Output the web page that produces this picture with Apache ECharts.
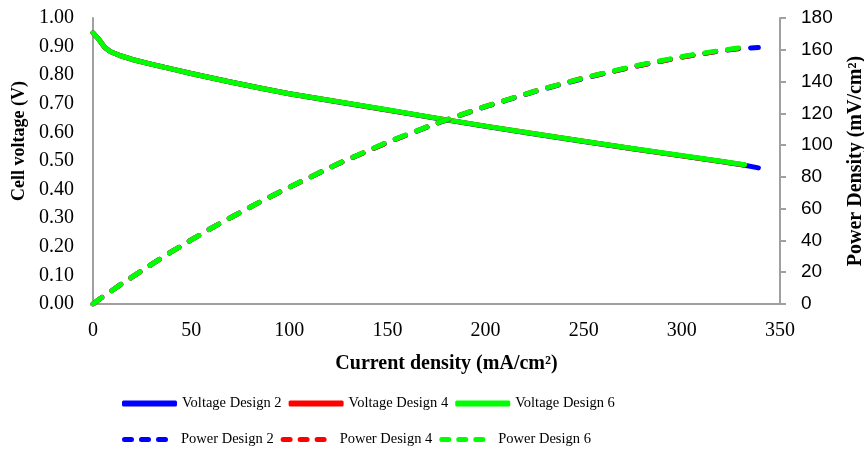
<!DOCTYPE html>
<html>
<head>
<meta charset="utf-8">
<title>Cell voltage and power density</title>
<script src="https://cdn.jsdelivr.net/npm/echarts@6/dist/echarts.min.js"></script>
<style>
  html, body { margin: 0; padding: 0; background: #ffffff; }
  #chart { width: 864px; height: 452px; }
</style>
</head>
<body>
<div id="chart"></div>
<script>
// Current density (mA/cm²) sample points
const currentDesign2 = [0, 3, 6, 9, 14, 20, 30, 40, 50, 60, 70, 85, 100, 125, 150, 175, 200, 225, 250, 275, 300, 320, 332, 339];
const currentDesign4 = [0, 3, 6, 9, 14, 20, 30, 40, 50, 60, 70, 85, 100, 125, 150, 175, 200, 225, 250, 275, 300, 320, 332];
const currentDesign6 = [0, 3, 6, 9, 14, 20, 30, 40, 50, 60, 70, 85, 100, 125, 150, 175, 200, 225, 250, 275, 300, 320, 332];

// Cell voltage (V)
const voltageDesign2 = [0.948, 0.925, 0.897, 0.882, 0.868, 0.855, 0.838, 0.822, 0.806, 0.791, 0.776, 0.755, 0.735, 0.706, 0.678, 0.649, 0.621, 0.594, 0.568, 0.543, 0.518, 0.498, 0.485, 0.476];
const voltageDesign4 = [0.948, 0.925, 0.897, 0.882, 0.868, 0.855, 0.838, 0.822, 0.806, 0.791, 0.776, 0.755, 0.735, 0.707, 0.678, 0.650, 0.622, 0.595, 0.569, 0.543, 0.518, 0.498, 0.486];
const voltageDesign6 = [0.948, 0.925, 0.897, 0.882, 0.868, 0.855, 0.838, 0.822, 0.806, 0.791, 0.776, 0.755, 0.735, 0.707, 0.679, 0.650, 0.622, 0.595, 0.569, 0.544, 0.519, 0.499, 0.487];

// Power density (mW/cm²)
const powerDesign2 = [0, 2.8, 5.4, 7.9, 12.2, 17.1, 25.1, 32.9, 40.3, 47.5, 54.3, 64.2, 73.5, 88.3, 101.7, 113.6, 124.2, 133.7, 142.0, 149.3, 155.4, 159.4, 161.0, 161.4];
const powerDesign4 = [0, 2.8, 5.4, 7.9, 12.2, 17.1, 25.1, 32.9, 40.3, 47.5, 54.3, 64.2, 73.5, 88.4, 101.7, 113.8, 124.4, 133.9, 142.3, 149.3, 155.4, 159.4, 161.4];
const powerDesign6 = [0, 2.8, 5.4, 7.9, 12.2, 17.1, 25.1, 32.9, 40.3, 47.5, 54.3, 64.2, 73.5, 88.4, 101.9, 113.8, 124.4, 133.9, 142.3, 149.6, 155.7, 159.7, 161.7];

const voltageTicks = { min: 0, max: 1, interval: 0.1 };
const powerTicks = { min: 0, max: 180, interval: 20 };
const currentTicks = { min: 0, max: 350, interval: 50 };

const pair = (xs, ys) => xs.map((x, i) => [x, ys[i]]);

const BLUE = '#0000ff', RED = '#ff0000', GREEN = '#00ff00';
const AXIS_GREY = '#a0a0a0';
const SERIF = '"Liberation Serif", "Times New Roman", serif';
const SANS = '"Liberation Sans", Arial, sans-serif';

// three rounded dashes used as the legend mark of the power series
const DASH_ICON = 'path://M2.5,0 H9.5 A2.5,2.5 0 0 1 9.5,5 H2.5 A2.5,2.5 0 0 1 2.5,0 Z ' +
  'M19.5,0 H26.5 A2.5,2.5 0 0 1 26.5,5 H19.5 A2.5,2.5 0 0 1 19.5,0 Z ' +
  'M36.5,0 H43.5 A2.5,2.5 0 0 1 43.5,5 H36.5 A2.5,2.5 0 0 1 36.5,0 Z';

function voltageSeries(name, color, xs, ys) {
  return {
    name, type: 'line', yAxisIndex: 0, symbol: 'none',
    data: pair(xs, ys),
    lineStyle: { color, width: 5, cap: 'round', join: 'round' },
    itemStyle: { color }
  };
}
function powerSeries(name, color, xs, ys) {
  return {
    name, type: 'line', yAxisIndex: 1, symbol: 'none',
    data: pair(xs, ys),
    lineStyle: { color, width: 5, type: [11, 12], cap: 'round', join: 'round' },
    itemStyle: { color }
  };
}

const chart = echarts.init(document.getElementById('chart'), null, { renderer: 'canvas' });

chart.setOption({
  animation: false,
  backgroundColor: '#ffffff',
  grid: { left: 93, right: 84, top: 18, bottom: 148, containLabel: false, outerBoundsMode: 'none' },
  legend: [
    {
      left: 117, top: 391, orient: 'horizontal',
      selectedMode: false,
      icon: 'roundRect', itemWidth: 55, itemHeight: 6, itemGap: 7,
      textStyle: { fontFamily: SERIF, fontSize: 14.5, color: '#000', width: 98 },
      data: ['Voltage Design 2', 'Voltage Design 4', 'Voltage Design 6']
    },
    {
      left: 117, top: 427, orient: 'horizontal',
      selectedMode: false,
      icon: DASH_ICON, itemWidth: 46, itemHeight: 5, itemGap: 7,
      textStyle: { fontFamily: SERIF, fontSize: 14.5, color: '#000', width: 99, padding: [0, 0, 0, 8] },
      data: ['Power Design 2', 'Power Design 4', 'Power Design 6']
    }
  ],
  xAxis: {
    type: 'value',
    min: currentTicks.min, max: currentTicks.max, interval: currentTicks.interval,
    name: 'Current density (mA/cm²)',
    nameLocation: 'middle', nameGap: 50,
    nameTextStyle: { fontFamily: SERIF, fontSize: 20, fontWeight: 'bold', color: '#000', padding: [0, 0, 0, 20] },
    axisLine: { show: true, onZero: false, lineStyle: { color: AXIS_GREY, width: 2 } },
    axisTick: { show: false },
    splitLine: { show: false },
    axisLabel: { fontFamily: SERIF, fontSize: 20, color: '#000', margin: 17 }
  },
  yAxis: [
    {
      type: 'value', position: 'left',
      min: voltageTicks.min, max: voltageTicks.max, interval: voltageTicks.interval,
      name: 'Cell voltage (V)',
      nameLocation: 'middle', nameGap: 52,
      nameTextStyle: { fontFamily: SERIF, fontSize: 18, fontWeight: 'bold', color: '#000', padding: [0, 0, 0, 40] },
      axisLine: { show: true, onZero: false, lineStyle: { color: AXIS_GREY, width: 2 } },
      axisTick: { show: false },
      splitLine: { show: false },
      axisLabel: { fontFamily: SERIF, fontSize: 20, color: '#000', margin: 19, formatter: v => v.toFixed(2) }
    },
    {
      type: 'value', position: 'right',
      min: powerTicks.min, max: powerTicks.max, interval: powerTicks.interval,
      name: 'Power Density (mV/cm²)',
      nameLocation: 'middle', nameGap: 66,
      nameTextStyle: { fontFamily: SERIF, fontSize: 20, fontWeight: 'bold', color: '#000' },
      axisLine: { show: true, onZero: false, lineStyle: { color: AXIS_GREY, width: 2 } },
      axisTick: { show: true, inside: false, length: 6, lineStyle: { color: AXIS_GREY, width: 2 } },
      splitLine: { show: false },
      axisLabel: { fontFamily: SANS, fontSize: 19, color: '#000', margin: 21 }
    }
  ],
  series: [
    voltageSeries('Voltage Design 2', BLUE, currentDesign2, voltageDesign2),
    voltageSeries('Voltage Design 4', RED, currentDesign4, voltageDesign4),
    voltageSeries('Voltage Design 6', GREEN, currentDesign6, voltageDesign6),
    powerSeries('Power Design 2', BLUE, currentDesign2, powerDesign2),
    powerSeries('Power Design 4', RED, currentDesign4, powerDesign4),
    powerSeries('Power Design 6', GREEN, currentDesign6, powerDesign6)
  ]
});
</script>
</body>
</html>
